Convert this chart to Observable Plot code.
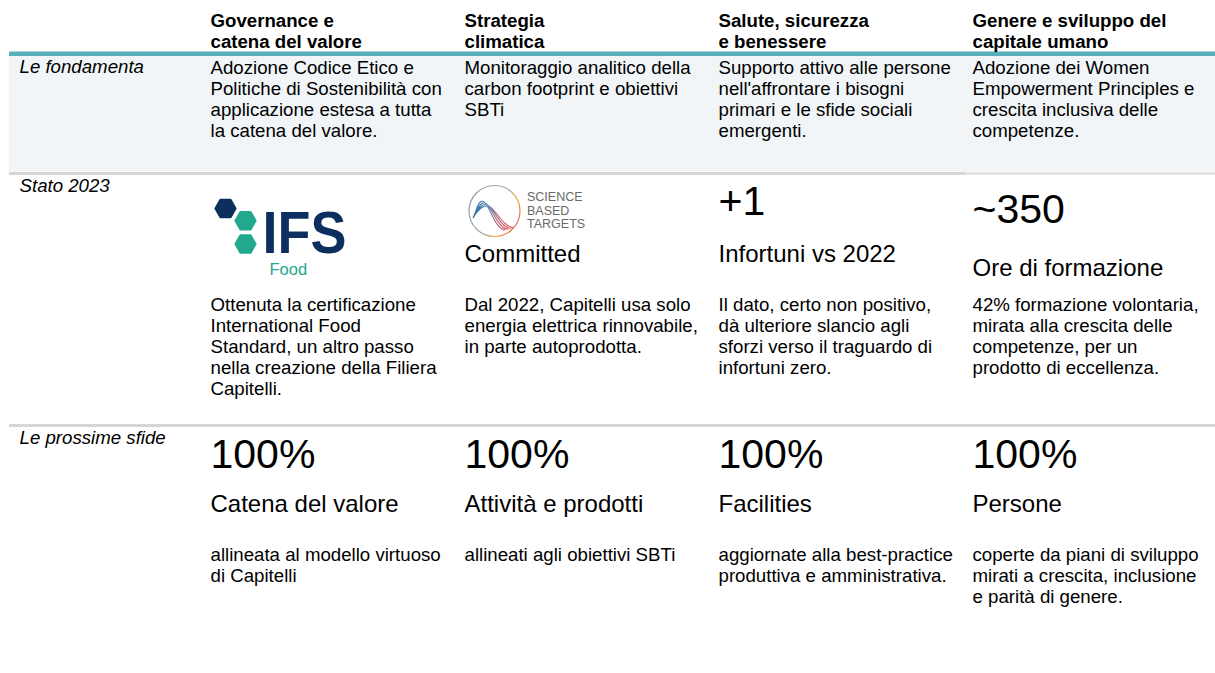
<!DOCTYPE html>
<html><head><meta charset="utf-8">
<script src="https://cdn.jsdelivr.net/npm/d3@7"></script>
<script src="https://cdn.jsdelivr.net/npm/@observablehq/plot@0.6"></script>
<style>
html,body{margin:0;padding:0;background:#fff;}
#chart svg{display:block;}
</style></head><body><div id="chart"></div>
<script>
// ---------- content ----------
const categories = [
  "Governance e\ncatena del valore",
  "Strategia\nclimatica",
  "Salute, sicurezza\ne benessere",
  "Genere e sviluppo del\ncapitale umano"
];
const rowLabels = ["Le fondamenta", "Stato 2023", "Le prossime sfide"];
const fondamenta = [
  "Adozione Codice Etico e\nPolitiche di Sostenibilità con\napplicazione estesa a tutta\nla catena del valore.",
  "Monitoraggio analitico della\ncarbon footprint e obiettivi\nSBTi",
  "Supporto attivo alle persone\nnell'affrontare i bisogni\nprimari e le sfide sociali\nemergenti.",
  "Adozione dei Women\nEmpowerment Principles e\ncrescita inclusiva delle\ncompetenze."
];
const statoValues = [null, null, "+1", "~350"];
const statoLabels = [null, "Committed", "Infortuni vs 2022", "Ore di formazione"];
const statoNotes = [
  "Ottenuta la certificazione\nInternational Food\nStandard, un altro passo\nnella creazione della Filiera\nCapitelli.",
  "Dal 2022, Capitelli usa solo\nenergia elettrica rinnovabile,\nin parte autoprodotta.",
  "Il dato, certo non positivo,\ndà ulteriore slancio agli\nsforzi verso il traguardo di\ninfortuni zero.",
  "42% formazione volontaria,\nmirata alla crescita delle\ncompetenze, per un\nprodotto di eccellenza."
];
const sfideValues = ["100%", "100%", "100%", "100%"];
const sfideLabels = ["Catena del valore", "Attività e prodotti", "Facilities", "Persone"];
const sfideNotes = [
  "allineata al modello virtuoso\ndi Capitelli",
  "allineati agli obiettivi SBTi",
  "aggiornate alla best-practice\nproduttiva e amministrativa.",
  "coperte da piani di sviluppo\nmirati a crescita, inclusione\ne parità di genere."
];
const ifsWord = "IFS";
const ifsSub = "Food";
const sbtWords = ["SCIENCE", "BASED", "TARGETS"];

// ---------- layout (pixels) ----------
const W = 1215, H = 673;
const layout = {
  colRange: [209.5, 973],
  labelDx: 19,
  ruleInset: 9,
  headTop: 12,
  tealY: 53.3,
  bandTop: 55.5, bandBottom: 171.5,
  sep1Y: 173, sep1SplitInset: 965,
  sep2Y: 425,
  rowTops: [59, 178.5, 430.5],
  row1Top: 59,
  statoValueTop: [null, null, 185, 193],
  statoLabelTop: [null, 244.5, 244.5, 258.5],
  statoNoteTop: 295.5,
  sfideValueTop: 438.5, sfideLabelTop: 494.5, sfideNoteTop: 545.5,
  hexes: [
    {dx: 15, y: 208, fill: "#0d2f5f"},
    {dx: 35, y: 220.2, fill: "#22a88e"},
    {dx: 35, y: 243.5, fill: "#22a88e"}
  ],
  hexR: 10,
  ifsWordDx: 52, ifsWordTop: 210, ifsWordSize: 60, ifsWordLen: 84,
  ifsSubDx: 59, ifsSubTop: 262.5, ifsSubSize: 16.5,
  sbtCx: 30, sbtCy: 210.5, sbtR: 25.5,
  sbtTextDx: 62.5, sbtTextTop: 190.5
};
const font = "'Liberation Sans', Arial, Helvetica, sans-serif";
const body = 18.67;

// custom symbols
const flatHex = {
  draw(ctx) {
    const R = layout.hexR;
    for (let k = 0; k < 6; k++) {
      const a = Math.PI / 3 * k;
      const px = R * Math.cos(a), py = R * Math.sin(a);
      if (k) ctx.lineTo(px, py); else ctx.moveTo(px, py);
    }
    ctx.closePath();
  }
};
const sbtWave = {
  draw(ctx) {
    for (let k = 0; k < 4; k++) {
      const s = [-21.5, 7];
      const p = [-12 + 1.8 * k, -10 + 1.6 * k];
      const e = [11 + 2.8 * k, 19 - 0.8 * k];
      ctx.moveTo(s[0], s[1]);
      ctx.bezierCurveTo(s[0] + 4, s[1] - 7, p[0] - 5, p[1], p[0], p[1]);
      ctx.bezierCurveTo(p[0] + 6, p[1], e[0] - 11, e[1], e[0], e[1]);
    }
  }
};

const common = {textAnchor: "start", lineAnchor: "top", fill: "#000"};
const colOf = (d, i) => categories[i];

const chart = Plot.plot({
  width: W, height: H, margin: 0,
  style: {fontFamily: font, background: "#fff", color: "#000"},
  x: {type: "point", domain: categories, range: layout.colRange, padding: 0, axis: null},
  y: {type: "linear", domain: [0, H], range: [0, H], axis: null},
  marks: [
    // band + rules
    Plot.rect([0], {y1: layout.bandTop, y2: layout.bandBottom, insetLeft: layout.ruleInset, fill: "#f1f5f7"}),
    Plot.ruleY([layout.tealY], {stroke: "#58b0bc", strokeWidth: 4.5, insetLeft: layout.ruleInset}),
    Plot.ruleY([layout.sep1Y], {stroke: "#d6d6d6", strokeWidth: 3, insetLeft: layout.ruleInset}),
    Plot.ruleY([layout.sep1Y], {stroke: "#e3e3e3", strokeWidth: 3, insetLeft: layout.sep1SplitInset}),
    Plot.ruleY([layout.sep2Y], {stroke: "#d6d6d6", strokeWidth: 3, insetLeft: layout.ruleInset}),

    // headers
    Plot.text(categories, {...common, x: d => d, y: layout.headTop, text: d => d,
      fontSize: body, fontWeight: "bold", lineHeight: 1.12}),

    // row labels
    Plot.text(rowLabels, {...common, frameAnchor: "left", dx: layout.labelDx,
      y: (d, i) => layout.rowTops[i], text: d => d, fontSize: body, fontStyle: "italic"}),

    // row 1
    Plot.text(fondamenta, {...common, x: colOf, y: layout.row1Top, text: d => d,
      fontSize: body, lineHeight: 1.125}),

    // row 2
    Plot.text(statoValues, {...common, filter: d => d != null, x: colOf,
      y: (d, i) => layout.statoValueTop[i], text: d => d, fontSize: 41}),
    Plot.text(statoLabels, {...common, filter: d => d != null, x: colOf,
      y: (d, i) => layout.statoLabelTop[i], text: d => d, fontSize: 24}),
    Plot.text(statoNotes, {...common, x: colOf, y: layout.statoNoteTop, text: d => d,
      fontSize: body, lineHeight: 1.125}),

    // IFS logo
    ...layout.hexes.map(h => Plot.dot([0], {x: () => categories[0], y: h.y, dx: h.dx,
      symbol: flatHex, fill: h.fill, stroke: h.fill, strokeWidth: 2.2, strokeLinejoin: "round"})),
    Plot.text([ifsWord], {...common, x: () => categories[0], y: layout.ifsWordTop, dx: layout.ifsWordDx,
      text: d => d, fontSize: layout.ifsWordSize, fontWeight: "bold", fill: "#0d2f5f", className: "ifs-word"}),
    Plot.text([ifsSub], {...common, x: () => categories[0], y: layout.ifsSubTop, dx: layout.ifsSubDx,
      text: d => d, fontSize: layout.ifsSubSize, fill: "#22a88e"}),

    // SBT logo
    Plot.dot([0], {x: () => categories[1], y: layout.sbtCy, dx: layout.sbtCx, r: layout.sbtR,
      fill: "none", stroke: "url(#sbtRing)", strokeWidth: 1.2}),
    Plot.dot([0], {x: () => categories[1], y: layout.sbtCy, dx: layout.sbtCx,
      symbol: sbtWave, fill: "none", stroke: "url(#sbtWaveGrad)", strokeWidth: 1.1}),
    Plot.text([sbtWords.join("\n")], {...common, x: () => categories[1], y: layout.sbtTextTop,
      dx: layout.sbtTextDx, text: d => d, fontSize: 12.5, lineHeight: 1.1, fill: "#6a6a6a"}),

    // row 3
    Plot.text(sfideValues, {...common, x: colOf, y: layout.sfideValueTop, text: d => d, fontSize: 41}),
    Plot.text(sfideLabels, {...common, x: colOf, y: layout.sfideLabelTop, text: d => d, fontSize: 24}),
    Plot.text(sfideNotes, {...common, x: colOf, y: layout.sfideNoteTop, text: d => d,
      fontSize: body, lineHeight: 1.125})
  ]
});

// gradients for the SBT logo
const svg = d3.select(chart);
const defs = svg.insert("defs", ":first-child");
const ring = defs.append("linearGradient").attr("id", "sbtRing")
  .attr("x1", 0).attr("y1", 0.2).attr("x2", 1).attr("y2", 0.8);
[[0, "#8e9aa3"], [0.5, "#a3a9ae"], [0.72, "#f1ad3c"], [1, "#e45a5c"]]
  .forEach(([o, c]) => ring.append("stop").attr("offset", o).attr("stop-color", c));
const wave = defs.append("linearGradient").attr("id", "sbtWaveGrad")
  .attr("x1", 0).attr("y1", 0).attr("x2", 1).attr("y2", 0);
[[0, "#2f6aa8"], [0.35, "#5d8fb8"], [0.7, "#cf5569"], [1, "#e07a70"]]
  .forEach(([o, c]) => wave.append("stop").attr("offset", o).attr("stop-color", c));

// condense the IFS wordmark like the logo
svg.selectAll("g.ifs-word text").attr("textLength", layout.ifsWordLen).attr("lengthAdjust", "spacingAndGlyphs");

document.getElementById("chart").appendChild(chart);
</script>
</body></html>
